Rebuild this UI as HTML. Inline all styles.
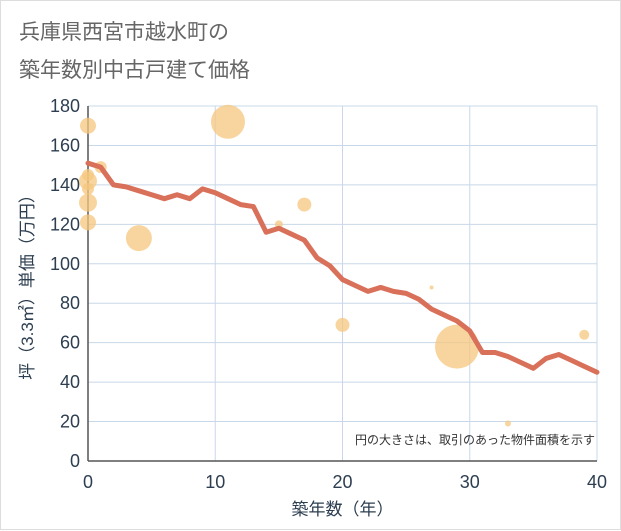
<!DOCTYPE html>
<html><head><meta charset="utf-8"><style>
body{margin:0;background:#fff;}
#wrap{position:relative;width:621px;height:530px;background:#fff;border:1px solid #ddd;box-sizing:border-box;font-family:"Liberation Sans","Noto Sans CJK JP",sans-serif;}
</style></head><body>
<div id="wrap">
<svg id="chart" width="621" height="530" style="position:absolute;left:0;top:0"></svg>
</div>
<script>
const xTicks=[0,10,20,30,40];
const yTicks=[0,20,40,60,80,100,120,140,160,180];
const lineYears=[0,1,2,3,4,5,6,7,8,9,10,11,12,13,14,15,16,17,18,19,20,21,22,23,24,25,26,27,28,29,30,31,32,33,34,35,36,37,38,39,40];
const linePrices=[151,149,140,139,137,135,133,135,133,138,136,133,130,129,116,118,115,112,103,99,92,89,86,88,86,85,82,77,74,71,66,55,55,53,50,47,52,54,51,48,45];
const bubbleYears=[0,0,0,0,0,0,1,4,11,15,17,20,27,29,33,39];
const bubblePrices=[170,145,142,138,131,121,149,113,172,120,130,69,88,58,19,64];
const bubbleSizes=[8,6,9,6,9,8,6,13,17,4,7,7,2,22,3,5];

const svg=document.getElementById('chart');
const NS='http://www.w3.org/2000/svg';
const X0=87,X1=596,Y0=460,Y1=105;
const sx=v=>X0+(v/40)*(X1-X0);
const sy=v=>Y0-(v/180)*(Y0-Y1);
function mk(t,a){const e=document.createElementNS(NS,t);for(const k in a)e.setAttribute(k,a[k]);svg.appendChild(e);return e;}

const title=mk('text',{x:18,y:38,'font-size':21,fill:'#666'});


title.innerHTML='<tspan x="18" y="38">兵庫県西宮市越水町の</tspan><tspan x="18" y="76">築年数別中古戸建て価格</tspan>';

yTicks.forEach(v=>{
 const l=mk('line',{x1:X0,x2:X1,y1:sy(v),y2:sy(v),stroke:'#c8d8e8','stroke-width':1});
 
 
 const t=mk('text',{x:X0-8,y:sy(v)+6,'text-anchor':'end','font-size':18,fill:'#2d3e50'});
 
 
 t.textContent=v;
});
xTicks.forEach(v=>{
 const l=mk('line',{x1:sx(v),x2:sx(v),y1:Y1,y2:Y0,stroke:'#c8d8e8','stroke-width':1});
 
 
 const t=mk('text',{x:sx(v),y:Y0+27,'text-anchor':'middle','font-size':18,fill:'#2d3e50'});
 
 
 t.textContent=v;
});
const ax=mk('line',{x1:X0,x2:X0,y1:Y1,y2:Y0,stroke:'#555','stroke-width':1.5});


const ax2=mk('line',{x1:X0,x2:X1,y1:Y0,y2:Y0,stroke:'#555','stroke-width':1.5});



bubbleYears.forEach((yr,i)=>{
 const c=mk('circle',{cx:sx(yr),cy:sy(bubblePrices[i]),r:bubbleSizes[i],fill:'#f5c77e','fill-opacity':0.75});
 
 
});
const pts=lineYears.map((yr,i)=>sx(yr)+','+sy(linePrices[i])).join(' ');
const pl=mk('polyline',{points:pts,fill:'none',stroke:'#d9705a','stroke-width':5,'stroke-linejoin':'round','stroke-linecap':'round'});



const note=mk('text',{x:594,y:443,'text-anchor':'end','font-size':12,fill:'#333'});


note.textContent='円の大きさは、取引のあった物件面積を示す';

const xt=mk('text',{x:sx(20),y:514,'text-anchor':'middle','font-size':17,fill:'#2d3e50'});


xt.textContent='築年数（年）';
const yt=mk('text',{x:0,y:0,'text-anchor':'middle','font-size':17,fill:'#2d3e50',transform:'translate(32,282) rotate(-90)'});


yt.textContent='坪（3.3㎡）単価（万円）';
</script>
</body></html>
